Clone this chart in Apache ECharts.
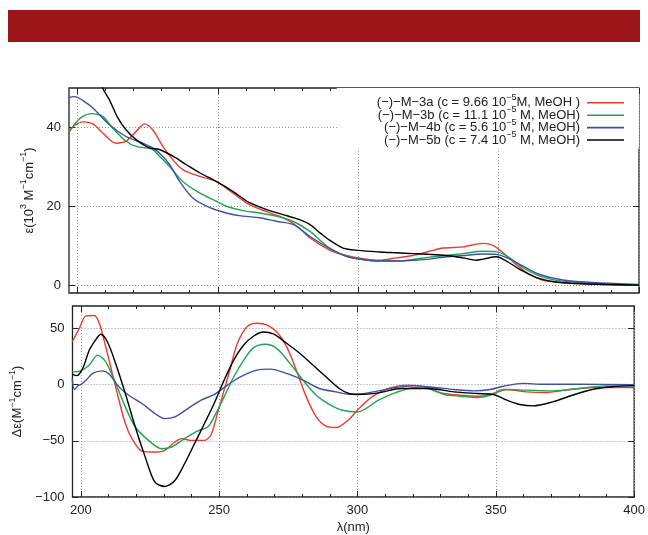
<!DOCTYPE html>
<html>
<head>
<meta charset="utf-8">
<title>UV and CD spectra of M-3a, M-3b, M-4b, M-5b</title>
<script src="https://cdn.jsdelivr.net/npm/echarts@6/dist/echarts.min.js"></script>
</head>
<body style="margin:0;background:#fff">
<div id="main" style="width:648px;height:535px;"></div>
<script>
// wavelength axis (nm)
var xMin = 197, xMax = 400;
var xMajor = [200, 250, 300, 350, 400];
var xMinor = [210, 220, 230, 240, 260, 270, 280, 290, 310, 320, 330, 340, 360, 370, 380, 390];
var absTicks = [0, 20, 40];
var cdTicks = [-100, -50, 0, 50];

var names = ['M-3a', 'M-3b', 'M-4b', 'M-5b'];
var colors = ['#ee3a2e', '#1ea552', '#3b51a8', '#000000'];
var legendText = {
    'M-3a': '{n|(−)−M−3a (c = 9.66 10}{s|−5}{n|M, MeOH )}',
    'M-3b': '{n|(−)−M−3b (c = 11.1 10}{s|−5}{n| M, MeOH)}',
    'M-4b': '{n|(−)−M−4b (c = 5.6 10}{s|−5}{n| M, MeOH)}',
    'M-5b': '{n|(−)−M−5b (c = 7.4 10}{s|−5}{n| M, MeOH)}'
};

// UV absorption, [λ, ε / 10^3]
var abs3a = [[196.9,39.0],[199,40.5],[201.9,41.4],[205.5,40.9],[209,38.6],[213.8,36.0],[217.3,36.5],[220.9,39.0],[223.9,40.9],[226.8,39.4],[230.4,35.2],[234,31.8],[237.5,29.3],[243.5,27.6],[249.4,26.3],[255.3,23.4],[261.3,20.4],[267.2,18.7],[273.2,17.1],[279.1,14.5],[282.7,12.0],[289.8,8.9],[295.8,7.5],[301.7,6.7],[307.6,6.3],[313.6,6.9],[319.5,7.5],[325.4,8.6],[330.2,9.4],[337.3,9.7],[344.5,10.6],[348,10.1],[351.6,8.2],[356.3,5.2],[361.1,2.7],[367,1.0],[379,0.4],[390,0.1],[400,0]];
var abs3b = [[196.9,38.6],[199,40.8],[201.5,42.6],[204.9,43.5],[209,42.8],[212.6,39.8],[217.3,36.5],[220.9,35.2],[226.8,34.4],[229.2,32.7],[232.8,30.1],[237.5,26.3],[243.5,23.4],[249.4,21.3],[253,20.0],[258.9,18.9],[264.9,18.3],[270.8,17.5],[276.7,16.2],[282.7,13.7],[289.8,9.4],[295.8,7.3],[301.7,6.5],[307.6,6.1],[313.6,6.1],[319.5,6.5],[325.4,7.1],[331.4,7.5],[337.3,8.0],[344.5,8.6],[349.2,8.5],[354,6.9],[358.7,4.4],[364.6,2.3],[372.9,1.0],[385,0.4],[400,0]];
var abs4b = [[196.9,47.6],[199,47.8],[202,46.8],[205.5,44.9],[211.4,40.7],[217.3,37.7],[223.3,36.0],[226.8,34.8],[229.2,33.5],[232.8,30.6],[236.4,26.3],[241.1,22.1],[247,19.7],[253,18.3],[258.9,17.5],[264.9,17.1],[270.8,16.2],[276.7,15.4],[280.3,13.7],[282.7,12.4],[289.8,9.3],[295.8,7.3],[301.7,6.5],[307.6,6.1],[313.6,6.1],[319.5,6.3],[325.4,6.6],[331.4,7.2],[337.3,7.5],[344.5,7.9],[349.2,7.8],[354,6.6],[358.7,4.8],[364.6,2.7],[372.9,1.3],[384.7,0.6],[400,0.2]];
var abs5b = [[206.5,56],[209,50],[211.4,47],[214.4,42.4],[217.3,39.4],[220.9,36.9],[225.7,34.8],[229.2,34.4],[234,32.7],[238.7,30.6],[243.5,28.5],[249.4,26.3],[255.3,23.8],[261.3,20.9],[267.2,19.2],[273.2,17.9],[279.1,16.6],[282.7,15.4],[286.5,13.2],[289.8,11.4],[294.6,9.4],[300,8.8],[307.6,8.4],[313.6,8.2],[319.5,8.0],[325.4,7.8],[331.4,7.5],[337.3,6.9],[342.1,6.3],[344.5,6.6],[349.2,7.2],[352.8,6.1],[357.5,4.0],[363.5,1.9],[370.6,0.8],[380,0.35],[400,0]];

// circular dichroism, [λ, Δε]
var cd3a = [[196.9,38.2],[199.5,50.2],[201.9,61.2],[204.9,61.6],[206.7,54.6],[209,33.8],[211.4,10],[213.8,-13.8],[216.1,-34.6],[218.5,-48],[222.1,-59.1],[226.8,-60],[230.4,-58.5],[234,-51],[236.4,-48],[239.9,-49.6],[244.7,-49.6],[247,-45],[249.4,-25.7],[251.8,-4.9],[254.2,15.9],[256.6,36.8],[260.1,51.6],[263.7,54.6],[267.2,53.2],[270.8,47.1],[274.4,33.8],[277.9,12.9],[281.5,-10.9],[285.1,-28.7],[288.6,-37],[292.2,-38.2],[296.9,-31],[300,-22.8],[305.2,-10.9],[311.2,-3.4],[318.3,-0.4],[325.4,-2.5],[330.2,-7.3],[337.3,-9.4],[344.5,-10.3],[349.2,-7.9],[354,-4.3],[361.1,-6.4],[368.2,-7],[375.3,-4.9],[384.8,-2.5],[400,-2.5]];
var cd3b = [[196.9,11.4],[200,12.3],[203.1,17.4],[206.1,26.3],[209,20.4],[212.6,1.1],[216.1,-19.8],[219.7,-37.7],[224.5,-49.6],[229.2,-57],[232.8,-55.5],[237.5,-48],[242.3,-41.2],[245.9,-37.7],[248.2,-28.7],[251.8,-10.9],[255.3,7],[258.9,21.9],[262.5,32.9],[266.6,35.9],[270.8,32.3],[275.6,18.9],[280.3,4],[285.1,-9.4],[289.8,-17.5],[294.6,-22.8],[300,-24.3],[307.6,-13.8],[313.6,-7.3],[320.7,-2.8],[325.4,-3.4],[331.4,-8.8],[337.3,-10.3],[343.3,-11.5],[348,-9.4],[352.8,-4.3],[361.1,-4.9],[370.6,-5.5],[380,-3.4],[389.5,-1.1],[400,-1.1]];
var cd4b = [[196.9,5.5],[197.7,-4.3],[199,-1],[200,0],[201.9,4],[204.3,10],[207.8,12.3],[210.2,9.4],[213.8,-2],[217.3,-9.4],[222.1,-16.8],[226.8,-25.7],[230.4,-30.2],[234,-28.7],[238.7,-21.3],[243.5,-13.8],[248.2,-8.8],[253,-0.4],[257.7,7],[263.7,12.9],[268.4,13.8],[274.4,10],[280.3,4],[286.2,-3.4],[292.2,-6.4],[296.9,-8.5],[300,-8.5],[307.6,-5.5],[313.6,-2.5],[320.7,-1.1],[327.8,-2.5],[334.9,-4.3],[342.1,-5.5],[348,-4.3],[352.8,-1.4],[359.9,1.1],[367,0.3],[380,0.3],[400,0]];
var cd5b = [[196.9,9.4],[198.5,8],[200.7,14.5],[203.1,30.8],[205.5,40.3],[207.2,44.8],[209.6,38.2],[212.6,18.9],[216.1,-7.9],[219.7,-37.7],[223.3,-64.5],[226.8,-86.8],[230.4,-90.6],[234,-85.3],[237.5,-70.4],[241.1,-52.5],[244.7,-34.6],[248.2,-16.8],[251.8,4],[255.3,21.9],[258.9,35.3],[262.5,43.3],[266,46.9],[269.6,45.1],[274.4,36.8],[279.1,27.9],[283.9,17.4],[288.6,7],[293.4,-3.4],[296.9,-7.9],[300,-8.8],[307.6,-7.3],[315.9,-3.4],[325.4,-3.4],[334.9,-6.4],[343.3,-7.9],[349.2,-8.8],[354,-13.8],[358.7,-17.7],[363.5,-18.9],[370.6,-15.3],[377.7,-9.4],[384.8,-4.3],[392,-1.9],[400,-0.9]];

var absData = [abs3a, abs3b, abs4b, abs5b];
var cdData = [cd3a, cd3b, cd4b, cd5b];

var font = '"Liberation Sans", Arial, sans-serif';
var ink = '#222';
// superscripts: a tiny token box pinned to the top of the line lifts the small text
var rich = {
    n: {fontSize: 13, lineHeight: 12.6, fontFamily: font, color: ink},
    s: {fontSize: 9, height: 2, lineHeight: 2, verticalAlign: 'top', fontFamily: font, color: ink}
};
var grid = {type: [1, 2], color: '#999', width: 1};

var myChart = echarts.init(document.getElementById('main'));

// 4 x axes per panel: minor/major ticks on bottom and top (mirrored)
function xAxesFor(g, withLabels) {
    var list = [];
    ['bottom', 'top'].forEach(function (pos) {
        list.push({
            type: 'value', gridIndex: g, position: pos, min: xMin, max: xMax,
            axisLine: {show: false, onZero: false},
            axisTick: {inside: true, length: 3, customValues: xMinor, lineStyle: {color: ink}},
            axisLabel: {show: withLabels && pos === 'bottom', customValues: xMajor, margin: 7,
                fontSize: 13, fontFamily: font, color: ink},
            splitLine: {show: false},
            name: (withLabels && pos === 'bottom') ? 'λ(nm)' : '',
            nameLocation: 'middle', nameGap: 24,
            nameTextStyle: {fontSize: 13, fontFamily: font, color: ink}
        });
        list.push({
            type: 'value', gridIndex: g, position: pos, min: xMin, max: xMax,
            axisLine: {show: false, onZero: false},
            axisTick: {inside: true, length: 6, customValues: xMajor, lineStyle: {color: ink}},
            axisLabel: {show: false},
            splitLine: {show: pos === 'bottom', lineStyle: grid}
        });
    });
    return list;
}

function yAxesFor(g, min, max, ticks, name) {
    return [{
        type: 'value', gridIndex: g, position: 'left', min: min, max: max,
        axisLine: {show: false, onZero: false},
        axisTick: {inside: true, length: 6, customValues: ticks, lineStyle: {color: ink}},
        axisLabel: {customValues: ticks, margin: 8, fontSize: 13, fontFamily: font, color: ink,
            formatter: function (v) { return String(v).replace('-', '−'); }},
        splitLine: {show: true, lineStyle: grid},
        name: name, nameLocation: 'middle', nameGap: 30,
        nameTextStyle: {rich: rich}
    }, {
        type: 'value', gridIndex: g, position: 'right', min: min, max: max,
        axisLine: {show: false, onZero: false},
        axisTick: {inside: true, length: 6, customValues: ticks, lineStyle: {color: ink}},
        axisLabel: {show: false},
        splitLine: {show: false}
    }];
}

var series = [];
names.forEach(function (nm, i) {
    series.push({
        name: nm, type: 'line', xAxisIndex: 0, yAxisIndex: 0, data: absData[i],
        showSymbol: false, symbol: 'none', smooth: 0.3, color: colors[i],
        lineStyle: {width: 1.4, color: colors[i]}, z: 3 + (i === 3 ? 1 : 0)
    });
    series.push({
        name: nm, type: 'line', xAxisIndex: 4, yAxisIndex: 2, data: cdData[i],
        showSymbol: false, symbol: 'none', smooth: 0.3, color: colors[i],
        lineStyle: {width: 1.4, color: colors[i]}
    });
});

var option = {
    animation: false,
    backgroundColor: '#fff',
    color: colors,
    graphic: [{
        type: 'rect', left: 8, top: 10, shape: {width: 632, height: 32},
        style: {fill: '#9c151b'}
    }],
    grid: [
        {left: 69, right: 9, top: 88, height: 205, show: true, borderColor: ink, borderWidth: 1.3, backgroundColor: 'transparent'},
        {left: 69, right: 9, top: 306, height: 191, show: true, borderColor: ink, borderWidth: 1.3, backgroundColor: 'transparent'}
    ],
    legend: {
        data: names,
        orient: 'vertical',
        align: 'right',
        right: 9,
        top: 88,
        padding: [5, 15, 2, 40],
        itemGap: -3.9,
        itemWidth: 37,
        itemHeight: 1.6,
        icon: 'rect',
        backgroundColor: '#fff',
        selectedMode: false,
        formatter: function (nm) { return legendText[nm]; },
        textStyle: {rich: rich, padding: [0, 2, 0, 0]}
    },
    xAxis: xAxesFor(0, false).concat(xAxesFor(1, true)),
    yAxis: yAxesFor(0, -2, 50, absTicks, '{n|ε(10}{s|3}{n| M}{s|−1}{n|cm}{s|−1}{n|)}')
        .concat(yAxesFor(1, -100, 70, cdTicks, '{n|Δε(M}{s|−1}{n|cm}{s|−1}{n|)}')),
    series: series
};

myChart.setOption(option);
</script>
</body>
</html>
